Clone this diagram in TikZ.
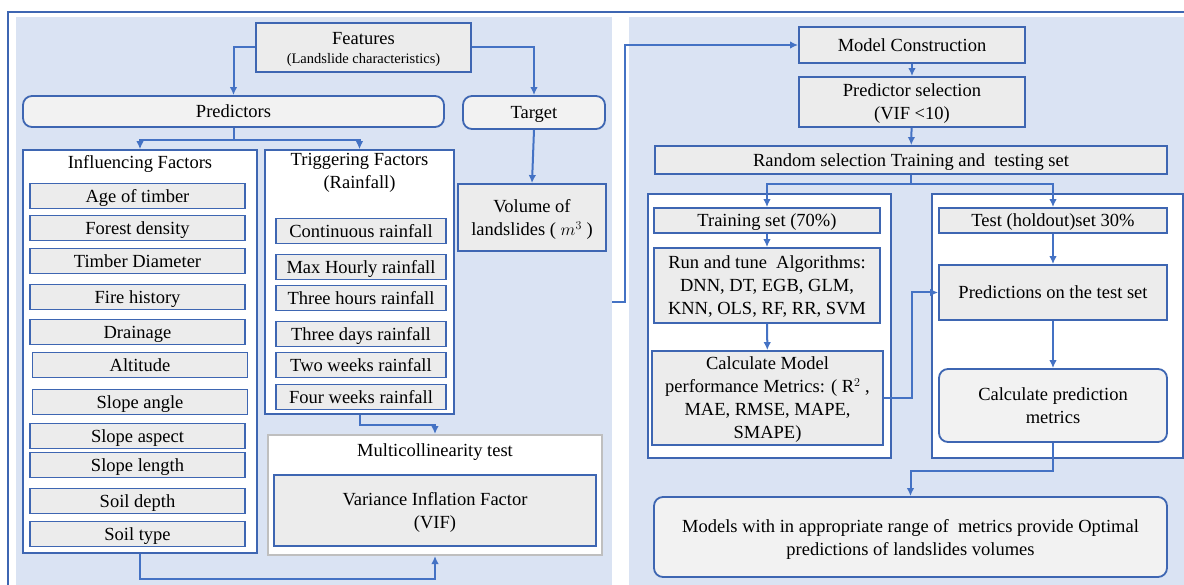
\documentclass[tikz,border=0pt]{standalone}
\usepackage{fontspec}
\setmainfont{Liberation Serif}
\usetikzlibrary{arrows.meta,positioning}
\definecolor{panelblue}{RGB}{218,227,243}
\definecolor{boxgray}{RGB}{236,236,236}
\definecolor{softgray}{RGB}{242,242,242}
\definecolor{edgeblue}{RGB}{62,102,178}
\definecolor{lineblue}{RGB}{68,114,196}
\definecolor{framegray}{RGB}{191,191,191}

\begin{document}
\begin{tikzpicture}[x=1pt, y=-1pt,
  font=\fontsize{18.5}{23}\selectfont,
  box/.style={draw=edgeblue, line width=1.8pt, fill=boxgray, align=center, inner sep=2pt, text depth=0pt},
  soft/.style={box, fill=softgray, rounded corners=9pt},
  fac/.style={box, minimum width=215pt, minimum height=25pt},
  rain/.style={box, minimum width=170pt, minimum height=25pt},
  group/.style={draw=edgeblue, line width=1.6pt, fill=white},
  title/.style={anchor=north, inner sep=0pt, align=center},
  arr/.style={-{Latex[length=8pt,width=7.5pt]}, draw=lineblue, line width=2pt}
]
\useasboundingbox (0,0) rectangle (1184,585);
\fill[panelblue] (16,17) rectangle (612,585);
\fill[panelblue] (629,17) rectangle (1184,585);
\draw[edgeblue, line width=1.8pt] (8,585) -- (8,12) -- (1184,12);

% left half: features
\node[box, minimum width=215pt, minimum height=49pt] (feat) at (363.5,47.5)
  {Features\\[-4pt] {\fontsize{14.5}{16}\selectfont (Landslide characteristics)}};
\node[soft, minimum width=421pt, minimum height=31pt] (pred) at (233.5,111.5) {Predictors};
\node[soft, minimum width=142pt, minimum height=33pt] (target) at (534,112.5) {Target};

\node[group, minimum width=234pt, minimum height=403pt,
      label={[title, yshift=-6pt]north:Influencing Factors}] (infl) at (140,351.5) {};
\node[fac] (age)      at (137.5,196) {Age of timber};
\node[fac] (density)  at (137.5,228) {Forest density};
\node[fac] (diam)     at (137.5,261) {Timber Diameter};
\node[fac] (fire)     at (137.5,297) {Fire history};
\node[fac] (drain)    at (137.5,332) {Drainage};
\node[fac] (alt)      at (140,365)   {Altitude};
\node[fac] (sangle)   at (140,402)   {Slope angle};
\node[fac] (saspect)  at (137.5,436) {Slope aspect};
\node[fac] (slength)  at (137.5,465) {Slope length};
\node[fac] (sdepth)   at (137.5,501) {Soil depth};
\node[fac] (stype)    at (137.5,534) {Soil type};

\node[group, minimum width=189pt, minimum height=264pt,
      label={[title, yshift=-4pt]north:Triggering Factors\\(Rainfall)}] (trig) at (359.5,282) {};
\node[rain] (cont)    at (361,231) {Continuous rainfall};
\node[rain] (maxh)    at (361,267) {Max Hourly rainfall};
\node[rain] (threeh)  at (361,298) {Three hours rainfall};
\node[rain] (threed)  at (361,334) {Three days rainfall};
\node[rain] (twow)    at (361,365) {Two weeks rainfall};
\node[rain] (fourw)   at (361,397) {Four weeks rainfall};

\node[box, minimum width=148pt, minimum height=67pt] (vol) at (532,217.5) {Volume of\\landslides ( $m^3$ )};

\node[draw=framegray, line width=2pt, fill=white, minimum width=334pt, minimum height=120pt,
      label={[title, yshift=-9pt]north:Multicollinearity test}] (multi) at (435,495) {};
\node[box, minimum width=322pt, minimum height=71pt] (vif) at (435,510.5) {Variance Inflation Factor\\(VIF)};

\coordinate (leftedge) at (612,302);

% right half: model construction
\node[box, minimum width=226pt, minimum height=36pt] (model) at (912,45) {Model Construction};
\node[box, minimum width=226pt, minimum height=50pt] (select) at (912,102) {Predictor selection\\(VIF <10)};
\node[box, minimum width=512pt, minimum height=28pt] (split) at (911,160) {Random selection Training and \ testing set};

\node[group, minimum width=243pt, minimum height=264pt] (trainbox) at (769.5,326) {};
\node[box, minimum width=226pt, minimum height=25pt] (train) at (767,220.5) {Training set (70\%)};
\node[box, minimum width=226pt, minimum height=75pt] (tune) at (767,285.5)
  {Run and tune \ Algorithms:\\DNN, DT, EGB, GLM,\\KNN, OLS, RF, RR, SVM};
\node[box, minimum width=231pt, minimum height=94pt] (perf) at (767.5,398)
  {Calculate Model\\performance Metrics: ( R$^{2}$ ,\\MAE, RMSE, MAPE,\\SMAPE)};

\node[group, minimum width=251pt, minimum height=264pt] (testbox) at (1057.5,326) {};
\node[box, minimum width=228pt, minimum height=25pt] (test) at (1053,220.5) {Test (holdout)set 30\%};
\node[box, minimum width=228pt, minimum height=55pt] (predict) at (1053,292.5) {Predictions on the test set};
\node[soft, minimum width=228pt, minimum height=73pt] (metrics) at (1053,405.5) {Calculate prediction\\metrics};

\node[soft, minimum width=513pt, minimum height=80pt] (optimal) at (910.5,537)
  {Models with in appropriate range of \ metrics provide Optimal\\predictions of landslides volumes};

\draw[arr] (feat.west) -| (pred.north);
\draw[arr] (feat.east) -| (target.north);
\draw[arr] (pred.south) -- ++(0,12) -| (infl.north);
\draw[arr] (pred.south) -- ++(0,12) -| (trig.north);
\draw[arr] (target.south) -- (vol.north);
\draw[arr] (trig.south) -- ++(0,10) -| (multi.north);
\draw[arr] (infl.south) -- ++(0,25) -| (multi.south);
\draw[arr] (leftedge) -- ++(13,0) |- (model.west);
\draw[arr] (model) -- (select);
\draw[arr] (select) -- (split);
\draw[arr] (split.south) -- ++(0,9) -| (train.north);
\draw[arr] (split.south) -- ++(0,9) -| (test.north);
\draw[arr] (train) -- (tune);
\draw[arr] (tune) -- (perf);
\draw[arr] (test) -- (predict);
\draw[arr] (predict) -- (metrics);
\draw[arr] (perf.east) -- ++(28,0) |- (predict.west);
\draw[arr] (metrics.south) -- ++(0,28) -| (optimal.north);
\end{tikzpicture}
\end{document}
